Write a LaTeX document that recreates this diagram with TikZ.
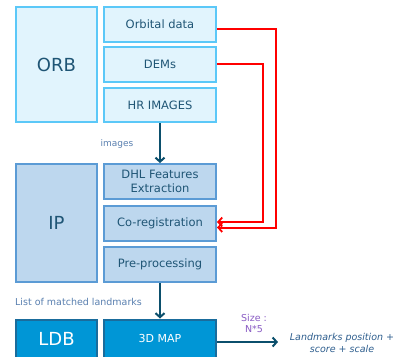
\documentclass[tikz,border=0pt]{standalone}
\usepackage{fontspec}
\setmainfont{DejaVu Sans}
\usetikzlibrary{arrows.meta}
\definecolor{orbfill}{HTML}{E1F4FD}
\definecolor{orbdraw}{HTML}{5BC8F8}
\definecolor{ipfill}{HTML}{BDD7EE}
\definecolor{ipdraw}{HTML}{5B9BD5}
\definecolor{ldbfill}{HTML}{0096D6}
\definecolor{ldbdraw}{HTML}{1A6C9C}
\definecolor{txt}{HTML}{1F5575}
\definecolor{darr}{HTML}{0B4F6C}
\definecolor{lbl}{HTML}{5A80B0}
\definecolor{purp}{HTML}{8A5CC4}
\definecolor{outtxt}{HTML}{2E5E8E}
\tikzset{
  box/.style={draw, line width=2pt, inner sep=0pt, text=txt, align=center, font=\fontsize{11.5}{14}\selectfont},
  orbbox/.style={box, fill=orbfill, draw=orbdraw},
  ipbox/.style={box, fill=ipfill, draw=ipdraw},
  ldbbox/.style={box, fill=ldbfill, draw=ldbdraw, text=white},
  big/.style={font=\fontsize{18}{20}\selectfont},
  redarr/.style={draw=red, line width=2pt, -{Straight Barb[length=4pt,width=9pt,line width=1.8pt]}},
  darkarr/.style={draw=darr, line width=2pt, -{Straight Barb[length=4pt,width=9pt,line width=2pt]}},
  small/.style={font=\fontsize{9.5}{11}\selectfont, inner sep=0pt},
}
\begin{document}
\begin{tikzpicture}[x=1pt,y=-1pt]
\clip (0,0) rectangle (401,356);
\fill[white] (0,0) rectangle (401,356);
% ORB group
\node[orbbox, big, minimum width=81, minimum height=115] (orb) at (56.5,64.5) {ORB};
\node[orbbox, minimum width=112, minimum height=35] (orbital) at (160,24.5) {Orbital data};
\node[orbbox, minimum width=112, minimum height=35] (dems) at (160,64.5) {DEMs};
\node[orbbox, minimum width=112, minimum height=34] (hr) at (160,105) {HR IMAGES};
% IP group
\node[ipbox, big, minimum width=81, minimum height=118] (ip) at (56.5,223) {IP};
\node[ipbox, minimum width=112, minimum height=35] (dhl) at (160,181.5) {DHL Features\\Extraction};
\node[ipbox, minimum width=112, minimum height=35] (coreg) at (160,223.5) {Co-registration};
\node[ipbox, minimum width=112, minimum height=35] (pre) at (160,264.5) {Pre-processing};
% LDB group
\node[ldbbox, big, minimum width=81, minimum height=38] (ldb) at (56.5,338.5) {LDB};
\node[ldbbox, font=\fontsize{11}{13}\selectfont, minimum width=112, minimum height=38] (map) at (160,338.5) {3D MAP};
% labels
\node[small, text=lbl, font=\fontsize{9}{11}\selectfont] (imglbl) at (117,144) {images};
\node[small, text=lbl, anchor=west] (listlbl) at (15,302) {List of matched landmarks};
\node[small, text=purp, align=center] (size) at (254,323) {Size :\\N*5};
\node[small, text=outtxt, align=center, font=\fontsize{9.5}{12}\itshape] (outlbl) at (342,343) {Landmarks position +\\score + scale};
% connectors
\draw[darkarr] (hr.south) -- (dhl.north);
\draw[darkarr] (pre.south) -- (map.north);
\coordinate (outend) at (278,342);
\draw[darkarr] (map.east |- outend) -- (outend);
\draw[redarr] ([yshift=-4.5pt]orbital.east) -- ++(59,0) |- ([yshift=-4pt]coreg.east);
\draw[redarr] ([yshift=0.5pt]dems.east) -- ++(46,0) |- ([yshift=1.5pt]coreg.east);
\end{tikzpicture}
\end{document}
